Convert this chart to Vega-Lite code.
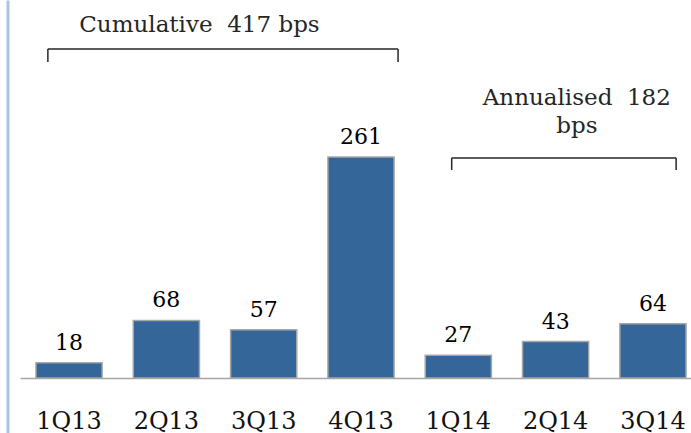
{
  "$schema": "https://vega.github.io/schema/vega-lite/v6.json",
  "width": 691,
  "height": 433,
  "autosize": "none",
  "padding": 0,
  "background": "white",
  "config": {"view": {"stroke": null}, "font": "DejaVu Serif"},
  "layer": [
    {
      "layer": [
        {
          "data": {"values": [
            {"quarter": "1Q13", "bps": 18},
            {"quarter": "2Q13", "bps": 68},
            {"quarter": "3Q13", "bps": 57},
            {"quarter": "4Q13", "bps": 261},
            {"quarter": "1Q14", "bps": 27},
            {"quarter": "2Q14", "bps": 43},
            {"quarter": "3Q14", "bps": 64}
          ]},
          "layer": [
            {
              "mark": {"type": "bar", "color": "#346699", "stroke": "#a6a6a6", "strokeWidth": 1.5},
              "encoding": {
                "x": {
                  "field": "quarter", "type": "nominal", "sort": null,
                  "scale": {"domain": ["1Q13", "2Q13", "3Q13", "4Q13", "1Q14", "2Q14", "3Q14"], "range": [20, 702], "paddingInner": 0.32, "paddingOuter": 0.164},
                  "axis": {"orient": "bottom", "offset": -55, "title": null, "domainColor": "#a6a6a6", "domainWidth": 1.5, "ticks": false, "tickSize": 0, "grid": false, "labelFont": "DejaVu Serif", "labelFontSize": 24, "labelColor": "#111111", "labelAngle": 0, "labelBaseline": "alphabetic", "labelPadding": 50}
                },
                "y": {"field": "bps", "type": "quantitative", "scale": {"domain": [0, 446.4], "range": [378, 0], "nice": false, "zero": true}, "axis": null}
              }
            },
            {
              "mark": {"type": "text", "baseline": "alphabetic", "dy": -13, "fontSize": 22, "font": "DejaVu Serif", "color": "#000000"},
              "encoding": {
                "x": {"field": "quarter", "type": "nominal", "sort": null},
                "y": {"field": "bps", "type": "quantitative"},
                "text": {"field": "bps", "type": "quantitative"}
              }
            }
          ]
        },
        {
          "data": {"values": [{"from": "1Q13", "to": "4Q13", "anchor": "2Q13", "label": "Cumulative \u00a0417 bps"}]},
          "layer": [
            {
              "mark": {"type": "rule", "color": "#262626", "strokeWidth": 1.5},
              "encoding": {
                "x": {"field": "from", "type": "nominal", "bandPosition": 0.18},
                "x2": {"field": "to", "bandPosition": 1.06},
                "y": {"datum": 388.6}
              }
            },
            {
              "mark": {"type": "rule", "color": "#262626", "strokeWidth": 1.5},
              "encoding": {
                "x": {"field": "from", "type": "nominal", "bandPosition": 0.18},
                "y": {"datum": 388.6},
                "y2": {"datum": 373.2}
              }
            },
            {
              "mark": {"type": "rule", "color": "#262626", "strokeWidth": 1.5},
              "encoding": {
                "x": {"field": "to", "type": "nominal", "bandPosition": 1.06},
                "y": {"datum": 388.6},
                "y2": {"datum": 373.2}
              }
            },
            {
              "mark": {"type": "text", "align": "center", "baseline": "alphabetic", "fontSize": 23, "font": "DejaVu Serif", "color": "#262626", "lineBreak": "\n", "lineHeight": 28},
              "encoding": {
                "x": {"field": "anchor", "type": "nominal", "bandPosition": 1.0},
                "y": {"datum": 409},
                "text": {"field": "label"}
              }
            }
          ]
        },
        {
          "data": {"values": [{"from": "1Q14", "to": "3Q14", "anchor": "2Q14", "label": "Annualised \u00a0182\nbps"}]},
          "layer": [
            {
              "mark": {"type": "rule", "color": "#262626", "strokeWidth": 1.5},
              "encoding": {
                "x": {"field": "from", "type": "nominal", "bandPosition": 0.4},
                "x2": {"field": "to", "bandPosition": 0.85},
                "y": {"datum": 259.8}
              }
            },
            {
              "mark": {"type": "rule", "color": "#262626", "strokeWidth": 1.5},
              "encoding": {
                "x": {"field": "from", "type": "nominal", "bandPosition": 0.4},
                "y": {"datum": 259.8},
                "y2": {"datum": 245.7}
              }
            },
            {
              "mark": {"type": "rule", "color": "#262626", "strokeWidth": 1.5},
              "encoding": {
                "x": {"field": "to", "type": "nominal", "bandPosition": 0.85},
                "y": {"datum": 259.8},
                "y2": {"datum": 245.7}
              }
            },
            {
              "mark": {"type": "text", "align": "center", "baseline": "alphabetic", "fontSize": 23, "font": "DejaVu Serif", "color": "#262626", "lineBreak": "\n", "lineHeight": 28},
              "encoding": {
                "x": {"field": "anchor", "type": "nominal", "bandPosition": 0.82},
                "y": {"datum": 322.4},
                "text": {"field": "label"}
              }
            }
          ]
        }
      ]
    },
    {
      "data": {"values": [{"v": 0}, {"v": 1}]},
      "mark": {"type": "point", "opacity": 0},
      "encoding": {
        "y": {"field": "v", "type": "quantitative", "scale": {"domain": [0, 1], "nice": false},
          "axis": {"orient": "left", "offset": -7.5, "title": null, "labels": false, "ticks": false, "grid": false, "domainColor": "#a9c4e4", "domainWidth": 3}}
      }
    }
  ],
  "resolve": {"scale": {"y": "independent"}}
}
